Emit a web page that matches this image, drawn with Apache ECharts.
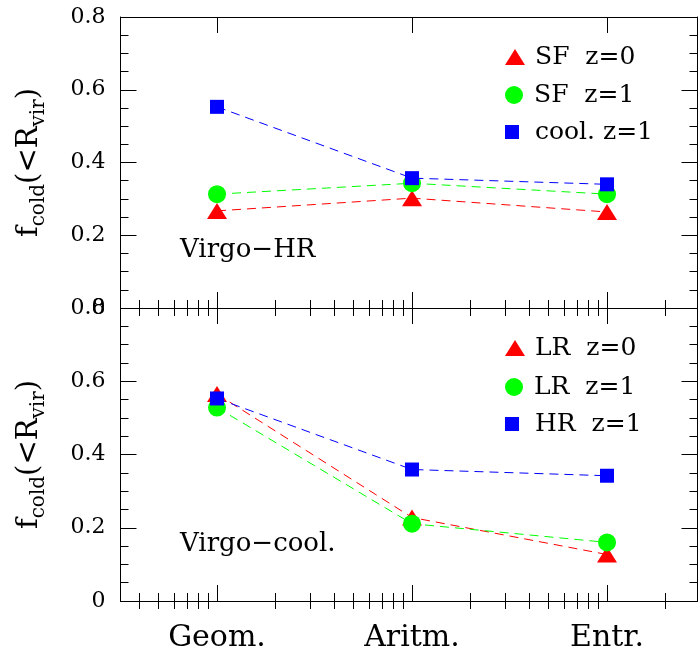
<!DOCTYPE html>
<html>
<head>
<meta charset="utf-8">
<script src="https://cdn.jsdelivr.net/npm/echarts@6/dist/echarts.min.js"></script>
<style>
  html, body { margin: 0; padding: 0; background: #fff; }
  #chart { width: 699px; height: 658px; }
</style>
</head>
<body>
<div id="chart"></div>
<script>
// Weighting schemes, placed one decade apart on a logarithmic x axis
const categories = ['Geom.', 'Aritm.', 'Entr.'];
const catPos = [0, 1, 2];          // log10 position of each scheme
const xRange = [-0.495, 2.464];    // visible log10 range

// Top panel (Virgo-HR)
const sfZ0 = [0.267, 0.302, 0.264];
const sfZ1 = [0.313, 0.343, 0.313];
const coolZ1 = [0.553, 0.357, 0.340];

// Bottom panel (Virgo-cool.)
const lrZ0 = [0.565, 0.228, 0.127];
const lrZ1 = [0.528, 0.211, 0.160];
const hrZ1 = [0.553, 0.359, 0.342];

const yMin = 0, yMax = 0.8, yStep = 0.2;

const FONT = 'DejaVu Serif';
const RED = '#ff0000', GREEN = '#00ff00', BLUE = '#0000ff';

// log-spaced minor ticks (2..9 within each decade)
const minorX = [];
for (let d = -1; d <= 2; d++) {
  for (let k = 2; k <= 9; k++) {
    const v = d + Math.log10(k);
    if (v > xRange[0] && v < xRange[1]) minorX.push(v);
  }
}

const grids = [
  { left: 120.5, top: 17, width: 577, height: 291 },
  { left: 120.5, top: 308, width: 577, height: 293 }
];

function xAxisPair(gridIndex, position, withLine, withLabels) {
  const base = {
    type: 'value', gridIndex, position, min: xRange[0], max: xRange[1],
    splitLine: { show: false }
  };
  return [
    Object.assign({}, base, {
      axisLine: { show: withLine, onZero: false, lineStyle: { color: '#000', width: 1 } },
      axisTick: { show: true, inside: true, length: 16, customValues: catPos, lineStyle: { color: '#000', width: 1 } },
      axisLabel: withLabels ? {
        show: true, customValues: catPos, margin: 22,
        fontFamily: FONT, fontSize: 30, color: '#000',
        formatter: v => categories[catPos.indexOf(Math.round(v))] || ''
      } : { show: false }
    }),
    Object.assign({}, base, {
      axisLine: { show: false },
      axisTick: { show: true, inside: true, length: 8, customValues: minorX, lineStyle: { color: '#000', width: 1 } },
      axisLabel: { show: false }
    })
  ];
}

const yName = '{m|f}{s|cold}{m|(<R}{s|vir}{m|)}';

function yAxisPair(gridIndex) {
  const base = {
    type: 'value', gridIndex, min: yMin, max: yMax, interval: yStep,
    splitLine: { show: false },
    axisLine: { show: true, onZero: false, lineStyle: { color: '#000', width: 1 } },
    axisTick: { show: true, inside: true, length: 16, lineStyle: { color: '#000', width: 1 } },
    minorTick: { show: true, splitNumber: 4, length: 8, lineStyle: { color: '#000', width: 1 } }
  };
  return [
    Object.assign({}, base, {
      position: 'left',
      axisLabel: {
        show: true, margin: 15, fontFamily: FONT, fontSize: 22, color: '#000',
        formatter: v => (v === 0 ? '0' : String(+v.toFixed(1)))
      },
      name: yName, nameLocation: 'middle', nameRotate: 90, nameGap: 72,
      nameTextStyle: {
        color: '#000',
        rich: {
          m: { fontFamily: FONT, fontSize: 29, lineHeight: 38, color: '#000' },
          s: { fontFamily: FONT, fontSize: 20, lineHeight: 20, verticalAlign: 'bottom', color: '#000' }
        }
      }
    }),
    Object.assign({}, base, { position: 'right', axisLabel: { show: false } })
  ];
}

function lineSeries(name, values, color, symbol, size, xAxisIndex, yAxisIndex, z) {
  return {
    name, type: 'line', xAxisIndex, yAxisIndex, z,
    data: values.map((v, i) => [catPos[i], v]),
    symbol, symbolSize: size, showSymbol: true,
    itemStyle: { color, borderWidth: 0 },
    lineStyle: { color, width: 1, type: [9, 6] },
    emphasis: { disabled: true },
    animation: false
  };
}

function legendItem(name, icon, w, h, centerY) {
  return {
    data: [{ name, icon }],
    left: 500, top: centerY - 15,
    itemWidth: w, itemHeight: h,
    selectedMode: false,
    textStyle: { fontFamily: FONT, fontSize: 25, color: '#000', lineHeight: 30, padding: [0, 0, 0, 5] }
  };
}

const option = {
  backgroundColor: '#fff',
  animation: false,
  grid: grids,
  xAxis: [
    ...xAxisPair(0, 'bottom', true, false),
    ...xAxisPair(0, 'top', true, false),
    ...xAxisPair(1, 'bottom', true, true),
    ...xAxisPair(1, 'top', true, false)
  ],
  yAxis: [...yAxisPair(0), ...yAxisPair(1)],
  legend: [
    legendItem('SF  z=0', 'triangle', 20, 16, 52),
    legendItem('SF  z=1', 'circle', 20, 18, 90),
    legendItem('cool. z=1', 'square', 20, 14, 127),
    legendItem('LR  z=0', 'triangle', 20, 16, 343),
    legendItem('LR  z=1', 'circle', 20, 18, 382),
    legendItem('HR  z=1', 'square', 20, 14, 419)
  ],
  series: [
    lineSeries('SF  z=0', sfZ0, RED, 'triangle', [20, 16], 0, 0, 2),
    lineSeries('SF  z=1', sfZ1, GREEN, 'circle', 18, 0, 0, 3),
    lineSeries('cool. z=1', coolZ1, BLUE, 'rect', 14, 0, 0, 4),
    lineSeries('LR  z=0', lrZ0, RED, 'triangle', [20, 16], 4, 2, 2),
    lineSeries('LR  z=1', lrZ1, GREEN, 'circle', 18, 4, 2, 3),
    lineSeries('HR  z=1', hrZ1, BLUE, 'rect', 14, 4, 2, 4)
  ],
  graphic: [
    { type: 'text', left: 180, top: 237, style: { text: 'Virgo\u2212HR', fontFamily: FONT, fontSize: 26, fill: '#000' } },
    { type: 'text', left: 180, top: 531, style: { text: 'Virgo\u2212cool.', fontFamily: FONT, fontSize: 26, fill: '#000' } }
  ]
};

const chart = echarts.init(document.getElementById('chart'), null, { renderer: 'canvas' });
chart.setOption(option);
</script>
</body>
</html>
